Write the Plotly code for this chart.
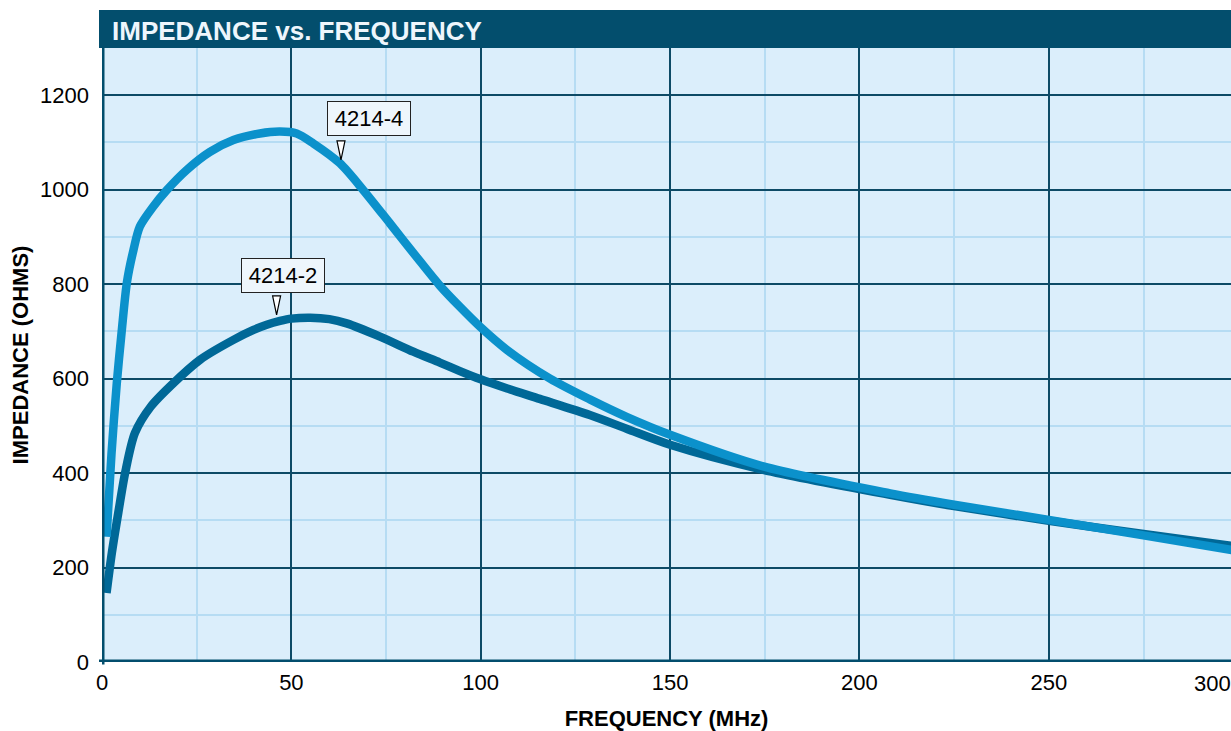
import plotly.graph_objects as go

# ---- data ----
freq_4 = [1.2, 2.5, 3.9, 5.2, 6.6, 8.3, 10.0, 13.5, 17.1, 22.4, 28.5, 34.7, 41.7, 47.0,
          51.4, 55.8, 62.8, 69.0, 76.0, 84.0, 89.2, 94.5, 99.8, 106.9, 118.3, 128.8,
          138.5, 150.0, 174.6, 208.1, 225, 250, 275, 300]
imp_4 = [265, 440, 590, 700, 805, 872, 922, 964, 999, 1042, 1080, 1105, 1119, 1123,
         1119, 1098, 1056, 999, 929, 848, 797, 752, 710, 661, 600, 556,
         519, 481, 414, 357, 333, 301, 268, 235]

freq_2 = [1.2, 2.6, 4.3, 6.1, 8.7, 12.9, 18.8, 25.9, 34.7, 40.0, 43.5, 47.0, 50.0, 55.0,
          60.0, 64.6, 73.4, 82.2, 89.2, 94.5, 99.8, 107.0, 115.6, 128.8, 138.5, 150.0,
          174.6, 208.1, 225, 250, 275, 300]
imp_2 = [146, 231, 316, 400, 485, 541, 590, 640, 682, 703, 714, 722, 727, 729,
         726, 717, 689, 657, 634, 616, 599, 579, 557, 523, 494, 460,
         407, 354, 330, 299, 271, 244]

series_names = ["4214-4", "4214-2"]
x_ticks = [0, 50, 100, 150, 200, 250, 300]
y_ticks = [0, 200, 400, 600, 800, 1000, 1200]

# label positions (data coords) and pointer tips
label_box = {"4214-4": (70.4, 1150), "4214-2": (47.8, 818)}
label_tip = {"4214-4": (63.1, 1063), "4214-2": (46.1, 735)}

X_MAX = 298.1
Y_MAX = 1300

DARK = "#034e6d"
LIGHT_CURVE = "#0b91cb"
DARK_CURVE = "#006897"
FONT = "Liberation Sans, Arial, sans-serif"

fig = go.Figure()
fig.add_trace(go.Scatter(x=freq_2, y=imp_2, mode="lines", name=series_names[1],
                         line=dict(color=DARK_CURVE, width=8.5, shape="spline", smoothing=0.8)))
fig.add_trace(go.Scatter(x=freq_4, y=imp_4, mode="lines", name=series_names[0],
                         line=dict(color=LIGHT_CURVE, width=8.5, shape="spline", smoothing=0.8)))

# title bar
plot_h = 731 - 48 - 69
plot_w = 1231 - 102
fig.add_shape(type="rect", xref="paper", yref="paper",
              x0=-3.0 / plot_w, x1=1.01, y0=1.0, y1=1 + 38.0 / plot_h,
              fillcolor=DARK, line=dict(width=0), layer="above")
# thick frame lines (left + bottom)
fig.add_shape(type="line", xref="x", yref="paper", x0=0, x1=0, y0=-2.5 / plot_h, y1=1.0,
              line=dict(color=DARK, width=5), layer="above")
fig.add_shape(type="line", xref="paper", yref="y", x0=-3.0 / plot_w, x1=1.01, y0=0, y1=0,
              line=dict(color=DARK, width=5), layer="above")

# labels with pointers
for name in series_names:
    bx, by = label_box[name]
    tx, ty = label_tip[name]
    fig.add_annotation(x=bx, y=by, xref="x", yref="y", text=name, showarrow=False,
                       font=dict(family=FONT, size=22, color="black"),
                       bgcolor="#eef6fc", bordercolor="#222222", borderwidth=1,
                       borderpad=1, width=80, height=31)
    fig.add_shape(type="path", xref="x", yref="y", xsizemode="pixel", ysizemode="pixel",
                  xanchor=tx, yanchor=ty, path="M -4,19 L 4,19 L 0,0 Z",
                  fillcolor="white", line=dict(color="black", width=1.2), layer="above")

# last tick label, pushed inside the right edge
fig.add_annotation(x=1.0 + 2.0 / plot_w, y=-21.0 / plot_h, xref="paper", yref="paper",
                   text=str(x_ticks[-1]), showarrow=False, xanchor="right", yanchor="middle",
                   font=dict(family=FONT, size=22, color="black"))

fig.update_layout(
    width=1231, height=731,
    margin=dict(l=102, r=0, t=48, b=69),
    paper_bgcolor="white",
    plot_bgcolor="#dbeefb",
    showlegend=False,
    title=dict(text="<b>IMPEDANCE vs. FREQUENCY</b>", x=10.0 / plot_w, xref="paper",
               xanchor="left", y=1 - 31.0 / 731, yref="container", yanchor="middle",
               font=dict(family=FONT, size=26, color="#eef6fc")),
    font=dict(family=FONT, size=22, color="black"),
)

fig.update_xaxes(
    range=[0, X_MAX], tickvals=x_ticks[:-1], ticktext=[str(v) for v in x_ticks[:-1]],
    showgrid=True, gridcolor="#0d4a66", gridwidth=2,
    minor=dict(dtick=25, tick0=0, showgrid=True, gridcolor="#b6dcf3", gridwidth=2),
    zeroline=False, showline=False, ticks="",
    tickfont=dict(family=FONT, size=22, color="black"),
    ticklabelstandoff=5,
    title=dict(text="<b>FREQUENCY (MHz)</b>", font=dict(family=FONT, size=22, color="black"),
               standoff=16),
)
fig.update_yaxes(
    range=[0, Y_MAX], tickvals=y_ticks, ticktext=[str(v) for v in y_ticks],
    showgrid=True, gridcolor="#0d4a66", gridwidth=2,
    minor=dict(dtick=100, tick0=0, showgrid=True, gridcolor="#b6dcf3", gridwidth=2),
    zeroline=False, showline=False, ticks="",
    tickfont=dict(family=FONT, size=22, color="black"),
    ticklabelstandoff=12,
    title=dict(text="<b>IMPEDANCE (OHMS)</b>", font=dict(family=FONT, size=22, color="black"),
               standoff=5),
)

fig.write_html("out.html", config={"displayModeBar": False},
               post_script="document.body.style.margin='0';")
